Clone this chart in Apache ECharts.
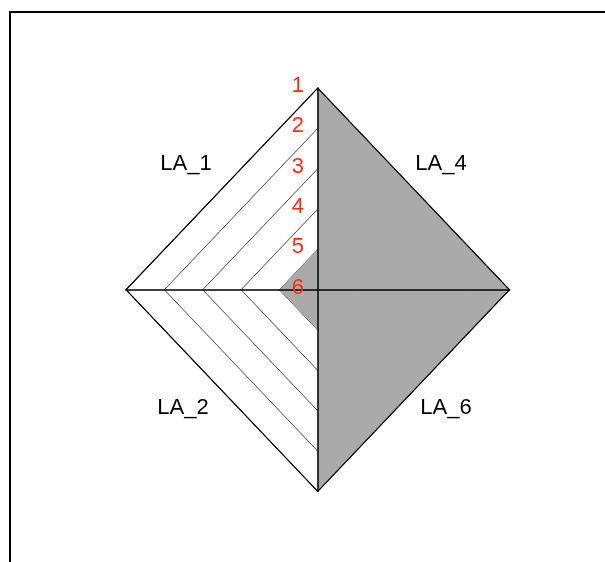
<!DOCTYPE html>
<html><head><meta charset="utf-8">
<script src="https://cdn.jsdelivr.net/npm/echarts@6/dist/echarts.min.js"></script>
<style>html,body{margin:0;padding:0;background:#fff}#c{width:605px;height:562px}</style>
</head><body><div id="c"></div>
<script>
// ---- data ----
const categories = ['LA_1', 'LA_4', 'LA_6', 'LA_2'];
const values = [1, 5, 5, 1];
const ringLevels = [1, 2, 3, 4, 5];
const tickLabels = ['6', '5', '4', '3', '2', '1'];
const maxLevel = 5;

// ---- layout ----
const quadrantSign = [[-1, 1], [1, 1], [1, -1], [-1, -1]];
const labelPos = [[186, 164], [441, 164], [446, 408], [183, 408]];
const FONT = '"Liberation Sans", Arial, sans-serif';

const chart = echarts.init(document.getElementById('c'), null, {renderer: 'canvas'});

function diamond(api, r) {
  return [api.coord([-r, 0]), api.coord([0, r]), api.coord([r, 0]), api.coord([0, -r])];
}

const option = {
  animation: false,
  backgroundColor: '#fff',
  grid: {left: 126, right: 95.5, top: 88, bottom: 70.5, containLabel: false},
  xAxis: {
    type: 'value', min: -maxLevel, max: maxLevel, z: 5,
    axisLine: {show: true, onZero: true, lineStyle: {color: '#000', width: 1.5}},
    axisTick: {show: false}, axisLabel: {show: false}, splitLine: {show: false}
  },
  yAxis: {
    type: 'value', min: -maxLevel, max: maxLevel, interval: 1, z: 5,
    axisLine: {show: true, onZero: true, lineStyle: {color: '#000', width: 1.5}},
    axisTick: {show: false}, splitLine: {show: false}, axisLabel: {show: false}
  },
  series: [
    {
      type: 'custom', name: 'rings', z: 1, silent: true,
      data: ringLevels,
      renderItem: function (params, api) {
        const r = api.value(0);
        return {type: 'polygon', shape: {points: diamond(api, r)},
          style: {fill: 'none', stroke: '#333', lineWidth: 0.9}};
      }
    },
    {
      type: 'custom', name: 'sectors', z: 2, silent: true,
      data: values.map((v, i) => [i, v]),
      renderItem: function (params, api) {
        const i = api.value(0), v = api.value(1);
        const s = quadrantSign[i];
        return {type: 'polygon', shape: {points: [api.coord([0, 0]), api.coord([0, s[1] * v]), api.coord([s[0] * v, 0])]},
          style: {fill: '#aaaaaa', stroke: 'none'}};
      }
    },
    {
      type: 'custom', name: 'border', z: 3, silent: true,
      data: [maxLevel],
      renderItem: function (params, api) {
        return {type: 'polygon', shape: {points: diamond(api, api.value(0))},
          style: {fill: 'none', stroke: '#000', lineWidth: 1.2}};
      }
    },
    {
      type: 'custom', name: 'ticks', z: 6, silent: true,
      data: tickLabels.map((t, i) => [i, t]),
      renderItem: function (params, api) {
        const v = api.value(0);
        const p = api.coord([0, v]);
        return {type: 'text', x: p[0] - 20, y: p[1] - 2, z2: 10,
          style: {text: tickLabels[v], fill: '#ff2a10', fontSize: 22, fontFamily: FONT, align: 'center', verticalAlign: 'middle'}};
      }
    }
  ],
  graphic: [
    {type: 'rect', shape: {x: 10, y: 12, width: 800, height: 800}, style: {fill: 'none', stroke: '#000', lineWidth: 2}, z: 10}
  ].concat(categories.map((c, i) => ({
    type: 'text', x: labelPos[i][0], y: labelPos[i][1], z: 10,
    style: {text: c, fill: '#000', fontSize: 22, fontFamily: FONT, align: 'center', verticalAlign: 'middle'}
  })))
};
chart.setOption(option);
</script>
</body></html>
